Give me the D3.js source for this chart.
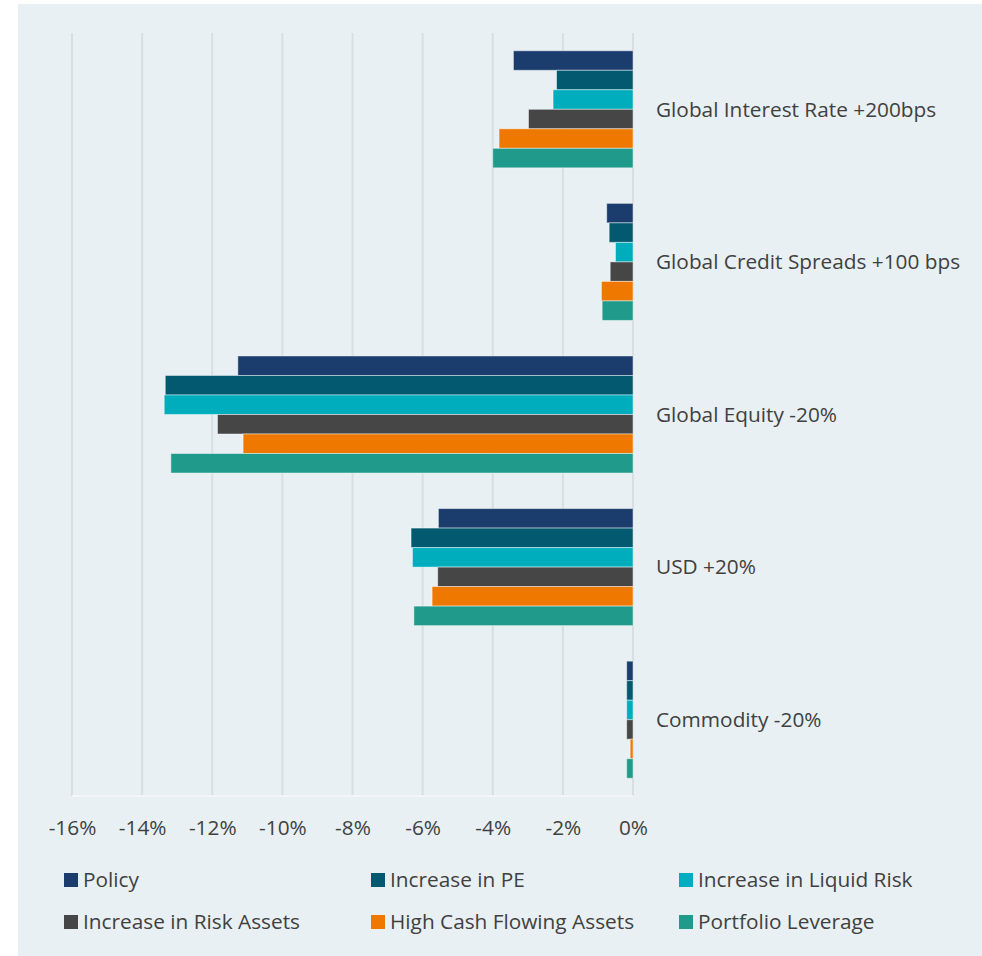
<!DOCTYPE html>
<html>
<head>
<meta charset="utf-8">
<script src="https://cdn.jsdelivr.net/npm/d3@7/dist/d3.min.js"></script>
<style>
  html, body { margin: 0; padding: 0; background: #ffffff; }
  svg { display: block; }
  text { font-family: "Open Sans", "Noto Sans", sans-serif; fill: #404040; }
</style>
</head>
<body>
<svg id="chart" width="982" height="956"></svg>
<script>
// Stress scenarios (rows) and portfolio variants (bars within each row)
const scenarios = [
  "Global Interest Rate +200bps",
  "Global Credit Spreads +100 bps",
  "Global Equity -20%",
  "USD +20%",
  "Commodity -20%"
];
const seriesNames = [
  "Policy",
  "Increase in PE",
  "Increase in Liquid Risk",
  "Increase in Risk Assets",
  "High Cash Flowing Assets",
  "Portfolio Leverage"
];
const seriesColors = ["#1b3d6e", "#03596f", "#00adbd", "#464646", "#ee7800", "#1f9a8b"];

// Impact (%) per scenario, one array per series
const policy        = [-3.41, -0.75, -11.27, -5.55, -0.18];
const increasePE    = [-2.18, -0.68, -13.34, -6.33, -0.18];
const liquidRisk    = [-2.28, -0.50, -13.37, -6.29, -0.18];
const riskAssets    = [-2.98, -0.65, -11.85, -5.57, -0.18];
const highCash      = [-3.82, -0.90, -11.12, -5.73, -0.08];
const leverage      = [-4.00, -0.88, -13.18, -6.25, -0.18];
const seriesValues = [policy, increasePE, liquidRisk, riskAssets, highCash, leverage];

const xTicks = [-16, -14, -12, -10, -8, -6, -4, -2, 0];

const FONT_SIZE = 20.8;

const svg = d3.select("#chart");

// panel background
svg.append("rect")
  .attr("x", 18).attr("y", 4)
  .attr("width", 964).attr("height", 952)
  .attr("fill", "#e8f0f3");

const plot = { left: 72, right: 633, top: 33, bottom: 796 };

const x = d3.scaleLinear().domain([-16, 0]).range([plot.left, plot.right]);
const y0 = d3.scaleBand().domain(scenarios).range([plot.top, plot.bottom]).paddingInner(0.233).paddingOuter(0.1165);
const y1 = d3.scaleBand().domain(seriesNames).range([0, y0.bandwidth()]);

// vertical gridlines
svg.append("g")
  .selectAll("line")
  .data(xTicks)
  .join("line")
  .attr("x1", d => x(d)).attr("x2", d => x(d))
  .attr("y1", plot.top).attr("y2", plot.bottom)
  .attr("stroke", "#d8dfe3")
  .attr("stroke-width", 2);

// bottom axis line
svg.append("line")
  .attr("x1", plot.left).attr("x2", plot.right)
  .attr("y1", plot.bottom).attr("y2", plot.bottom)
  .attr("stroke", "#f7fafb")
  .attr("stroke-width", 1.5);

// x axis tick labels
const xAxis = d3.axisBottom(x).tickValues(xTicks).tickFormat(d => d + "%").tickSize(0).tickPadding(0);
const gx = svg.append("g")
  .attr("transform", `translate(0,${plot.bottom})`)
  .call(xAxis);
gx.select(".domain").remove();
gx.selectAll("text")
  .attr("y", 32)
  .attr("dy", "0.35em")
  .attr("font-size", FONT_SIZE)
  .attr("font-family", "'Open Sans', sans-serif")
  .attr("fill", "#404040");

// bars
const groups = svg.append("g")
  .selectAll("g")
  .data(scenarios)
  .join("g")
  .attr("transform", d => `translate(0,${y0(d)})`);

groups.selectAll("rect")
  .data((d, i) => seriesNames.map((s, j) => ({ s, v: seriesValues[j][i], c: seriesColors[j] })))
  .join("rect")
  .attr("x", d => x(d.v))
  .attr("y", d => y1(d.s))
  .attr("width", d => x(0) - x(d.v))
  .attr("height", y1.bandwidth())
  .attr("fill", d => d.c)
  .attr("stroke", "rgba(255,255,255,0.45)")
  .attr("stroke-width", 1);

// category labels on the right
svg.append("g")
  .selectAll("text")
  .data(scenarios)
  .join("text")
  .attr("x", 656)
  .attr("y", d => y0(d) + y0.bandwidth() / 2)
  .attr("dy", "0.35em")
  .attr("font-size", FONT_SIZE)
  .text(d => d);

// legend, three columns by two rows
const legendX = [64, 371, 679];
const legendY = [880, 922];
const legend = svg.append("g")
  .selectAll("g")
  .data(seriesNames)
  .join("g")
  .attr("transform", (d, i) => `translate(${legendX[i % 3]},${legendY[Math.floor(i / 3)]})`);
legend.append("rect")
  .attr("x", 0).attr("y", -7)
  .attr("width", 14).attr("height", 14)
  .attr("fill", (d, i) => seriesColors[i]);
legend.append("text")
  .attr("x", 19)
  .attr("dy", "0.35em")
  .attr("font-size", FONT_SIZE)
  .text(d => d);
</script>
</body>
</html>
